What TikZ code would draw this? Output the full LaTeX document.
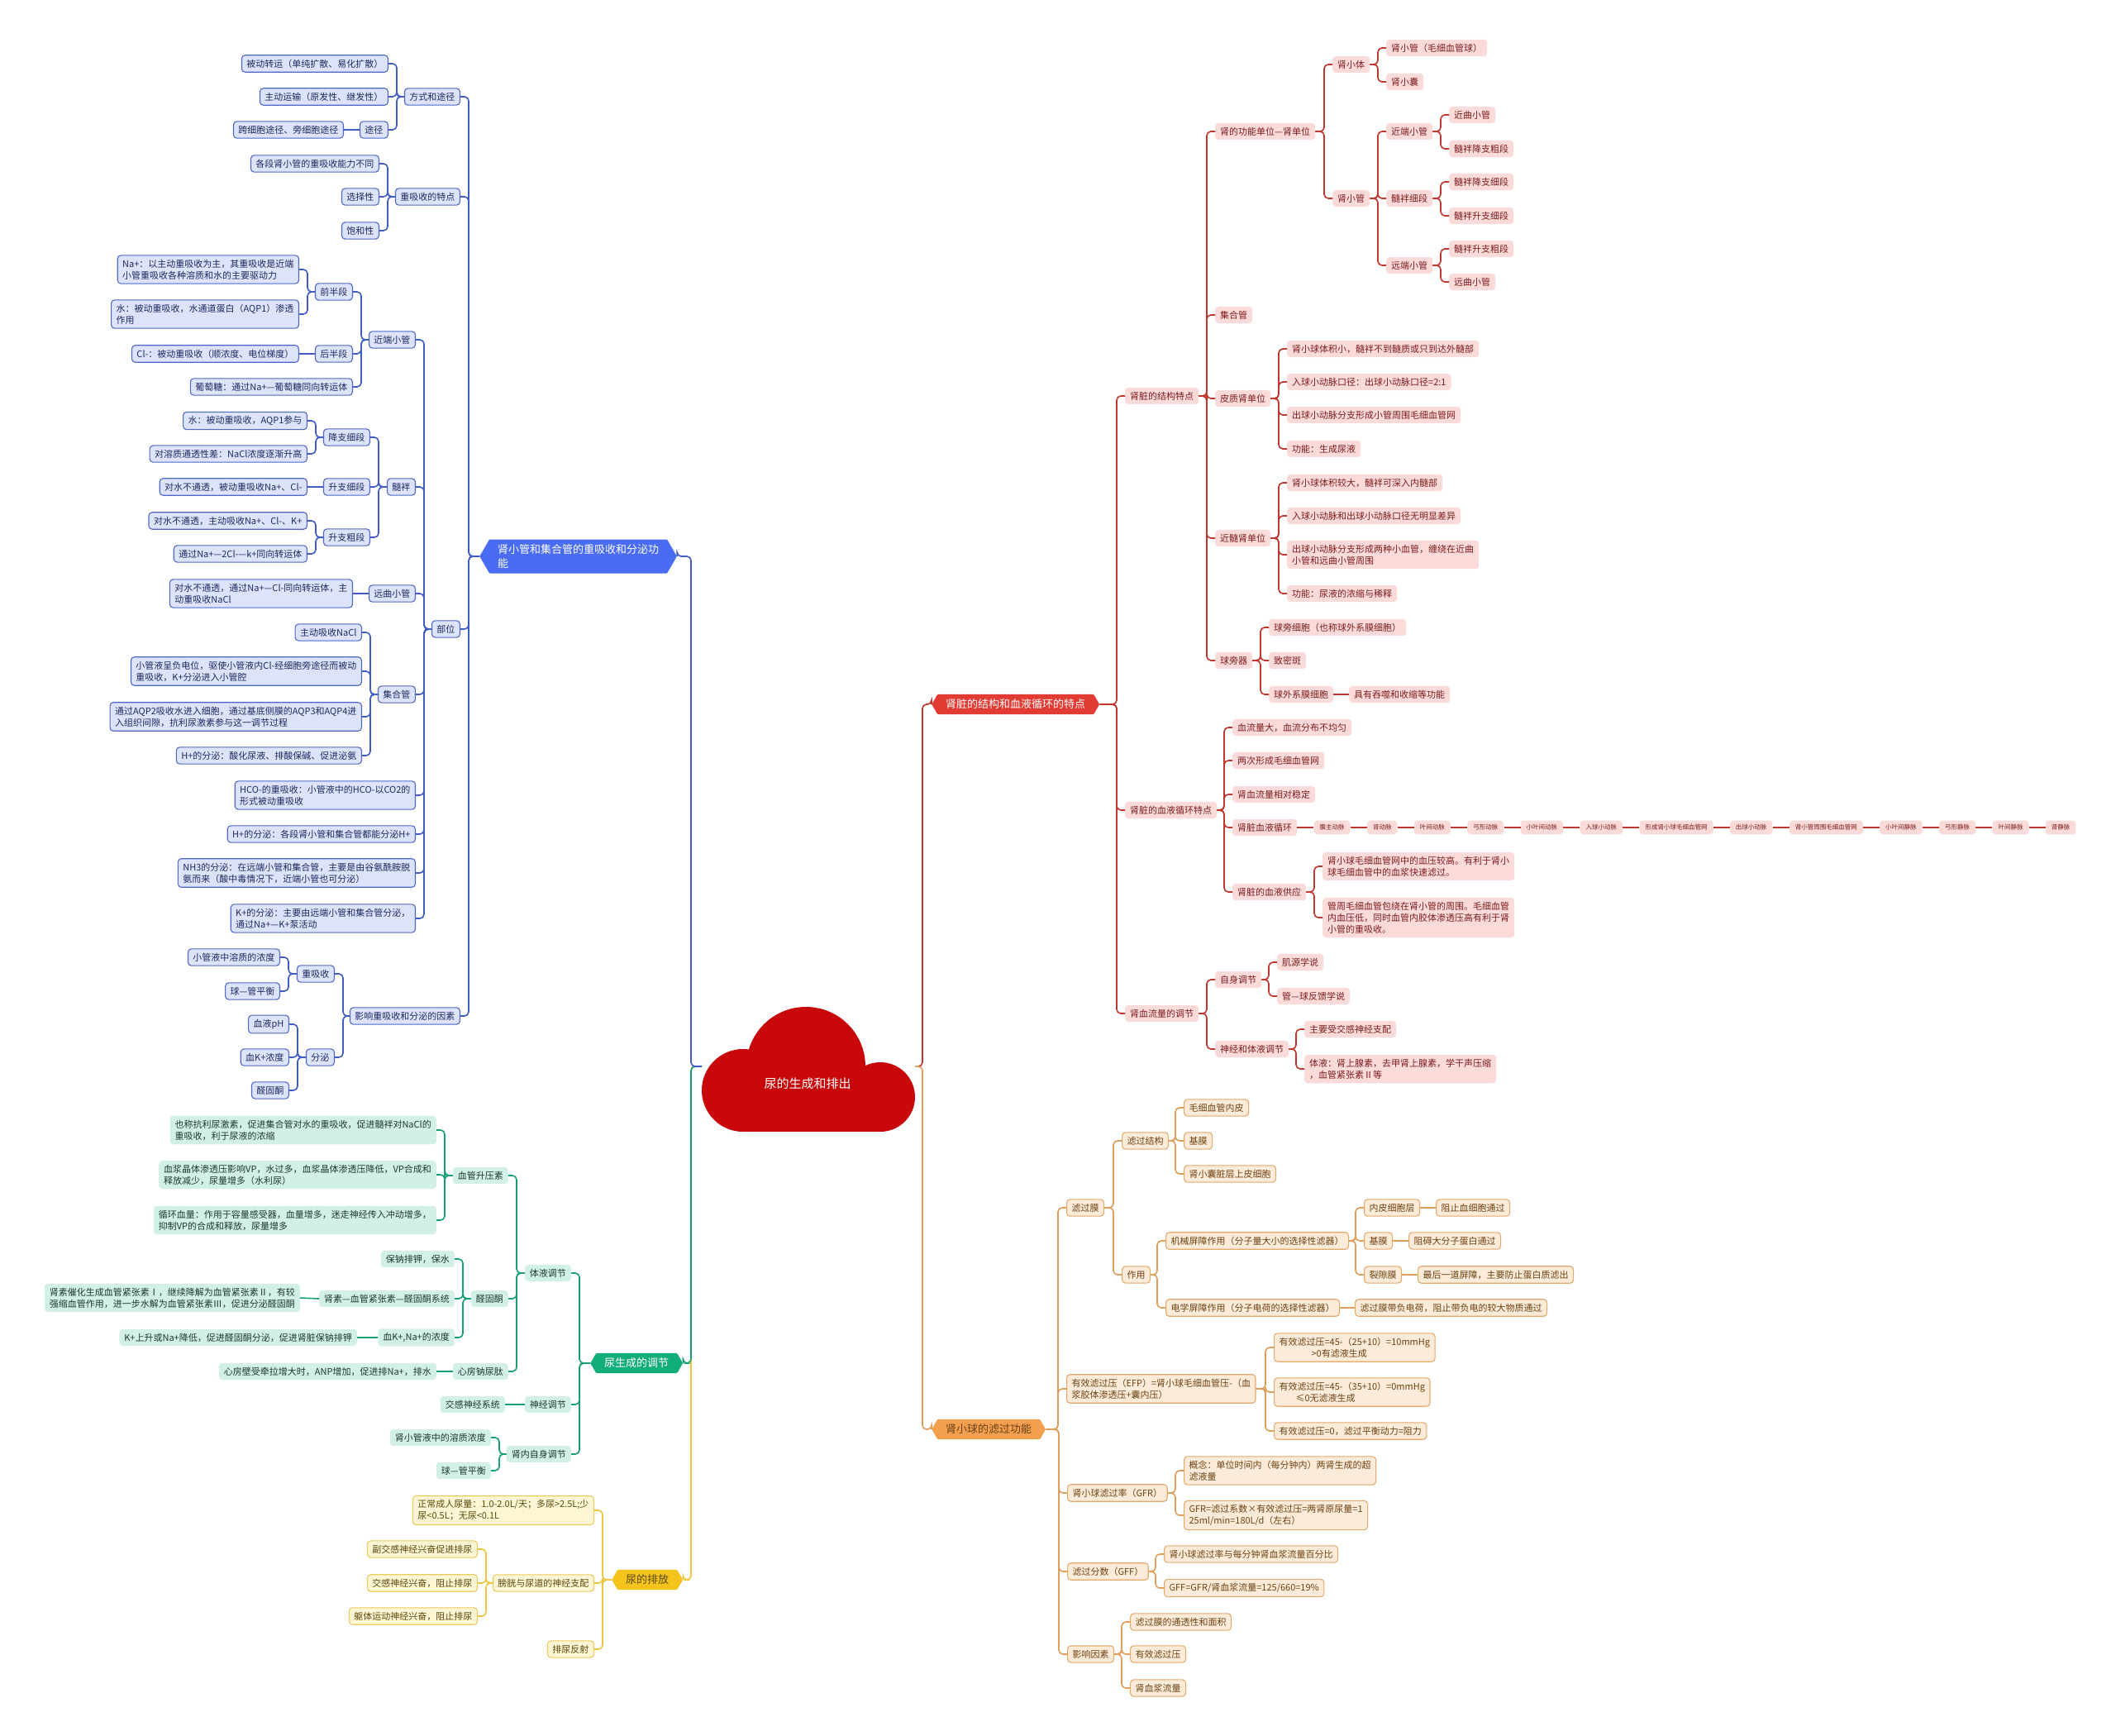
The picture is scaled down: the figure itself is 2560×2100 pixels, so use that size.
\documentclass[tikz,border=0pt]{standalone}
\usepackage{fontspec}
\setmainfont{Noto Sans CJK SC}
\usetikzlibrary{positioning,shapes.symbols}
\definecolor{bcol}{HTML}{3F5CC4}
\definecolor{bfill}{HTML}{DCE3FA}
\definecolor{bdraw}{HTML}{5069C9}
\definecolor{btext}{HTML}{1E2A5E}
\definecolor{bmain}{HTML}{4A6CF2}
\definecolor{rcol}{HTML}{C0362E}
\definecolor{rfill}{HTML}{FBDADA}
\definecolor{rtext}{HTML}{7A1D1D}
\definecolor{rmain}{HTML}{E23B33}
\definecolor{ocol}{HTML}{DE9E5C}
\definecolor{ofill}{HTML}{FCEBD8}
\definecolor{odraw}{HTML}{E3AA6E}
\definecolor{otext}{HTML}{6B4214}
\definecolor{omain}{HTML}{F2A04F}
\definecolor{gcol}{HTML}{16A070}
\definecolor{gfill}{HTML}{D2F1E4}
\definecolor{gtext}{HTML}{1C3A2F}
\definecolor{gmain}{HTML}{12AE78}
\definecolor{ycol}{HTML}{ECC43E}
\definecolor{yfill}{HTML}{FDF6D4}
\definecolor{ydraw}{HTML}{EACB60}
\definecolor{ytext}{HTML}{5A480C}
\definecolor{ymain}{HTML}{F4C41C}
\definecolor{rootc}{HTML}{C8080A}
\begin{document}
\begin{tikzpicture}[x=1pt,y=-1pt,
  every node/.style={font=\fontsize{11}{14}\selectfont, align=left, inner xsep=6pt, inner ysep=5pt, rounded corners=4pt},
  lside/.style={anchor=east}, rside/.style={anchor=west},
  bbox/.style={draw=bdraw, fill=bfill, text=btext, line width=1.1pt},
  rbox/.style={fill=rfill, text=rtext},
  obox/.style={draw=odraw, fill=ofill, text=otext, line width=1.1pt},
  gbox/.style={fill=gfill, text=gtext},
  ybox/.style={draw=ydraw, fill=yfill, text=ytext, line width=1.1pt},
  chainbox/.style={rbox, font=\fontsize{7.5}{9}\selectfont, inner xsep=7pt, inner ysep=5pt},
  mainbox/.style={shape=signal, signal to=west and east, signal pointer angle=120, rounded corners=1pt,
    font=\fontsize{13}{17}\selectfont, inner xsep=10pt, inner ysep=6pt, anchor=west},
  bline/.style={draw=bcol, line width=1.6pt, rounded corners=5pt},
  rline/.style={draw=rcol, line width=1.6pt, rounded corners=5pt},
  oline/.style={draw=ocol, line width=1.6pt, rounded corners=5pt},
  gline/.style={draw=gcol, line width=1.6pt, rounded corners=5pt},
  yline/.style={draw=ycol, line width=1.6pt, rounded corners=5pt}]
\fill[white] (0,0) rectangle (2560,2100);
\useasboundingbox (0,0) rectangle (2560,2100);

% centre
\coordinate (rootL) at (849,1290);
\coordinate (rootR) at (1107,1290);

% main branches
\node[mainbox, fill=bmain, text=white] (mb) at (580,673) {肾小管和集合管的重吸收和分泌功\\能};
\node[mainbox, fill=gmain, text=white] (mg) at (714,1649) {尿生成的调节};
\node[mainbox, fill=ymain, text=ytext] (my) at (740,1911) {尿的排放};
\node[mainbox, fill=rmain, text=white] (mr) at (1127,852) {肾脏的结构和血液循环的特点};
\node[mainbox, fill=omain, text=otext] (mo) at (1127,1729) {肾小球的滤过功能};

\draw[yline] (my.east) -- ++(0,0) -| (836,1290) -- (rootL);
\draw[gline] (mg.east) -- ++(0,0) -| (836,1290) -- (rootL);
\draw[bline] (mb.east) -- ++(0,0) -| (836,1290) -- (rootL);
\draw[rline] (mr.west) -- ++(0,0) -| (1116,1290) -- (rootR);
\draw[oline] (mo.west) -- ++(0,0) -| (1116,1290) -- (rootR);

% cloud
\fill[rootc] (975,1290) circle (72pt);
\fill[rootc] (899,1319) circle (50pt);
\fill[rootc] (1065,1327) circle (42pt);
\fill[rootc] (899,1300) rectangle (1065,1369);
\node[text=white, font=\fontsize{15}{18}\selectfont] (root) at (977,1311) {尿的生成和排出};

% blue: reabsorption and secretion
\node[bbox, lside] (b1) at (557,117) {方式和途径};
\node[bbox, lside] (b11) at (470,77) {被动转运（单纯扩散、易化扩散）};
\node[bbox, lside] (b12) at (470,117) {主动运输（原发性、继发性）};
\node[bbox, lside] (b13) at (470,157) {途径};
\node[bbox, lside] (b131) at (416,157) {跨细胞途径、旁细胞途径};
\node[bbox, lside] (b2) at (557,238) {重吸收的特点};
\node[bbox, lside] (b21) at (459,198) {各段肾小管的重吸收能力不同};
\node[bbox, lside] (b22) at (459,238) {选择性};
\node[bbox, lside] (b23) at (459,279) {饱和性};
\node[bbox, lside] (b3) at (557,761) {部位};
\node[bbox, lside] (b31) at (503,411) {近端小管};
\node[bbox, lside] (b311) at (427,353) {前半段};
\node[bbox, lside] (b3111) at (362,326) {Na+：以主动重吸收为主，其重吸收是近端\\小管重吸收各种溶质和水的主要驱动力};
\node[bbox, lside] (b3112) at (362,380) {水：被动重吸收，水通道蛋白（AQP1）渗透\\作用};
\node[bbox, lside] (b312) at (427,428) {后半段};
\node[bbox, lside] (b3121) at (362,428) {Cl-：被动重吸收（顺浓度、电位梯度）};
\node[bbox, lside] (b313) at (427,468) {葡萄糖：通过Na+—葡萄糖同向转运体};
\node[bbox, lside] (b32) at (503,589) {髓袢};
\node[bbox, lside] (b321) at (448,529) {降支细段};
\node[bbox, lside] (b3211) at (372,509) {水：被动重吸收，AQP1参与};
\node[bbox, lside] (b3212) at (372,549) {对溶质通透性差：NaCl浓度逐渐升高};
\node[bbox, lside] (b322) at (448,589) {升支细段};
\node[bbox, lside] (b3221) at (372,589) {对水不通透，被动重吸收Na+、Cl-};
\node[bbox, lside] (b323) at (448,650) {升支粗段};
\node[bbox, lside] (b3231) at (372,630) {对水不通透，主动吸收Na+、Cl-、K+};
\node[bbox, lside] (b3232) at (372,670) {通过Na+—2Cl-—k+同向转运体};
\node[bbox, lside] (b33) at (503,718) {远曲小管};
\node[bbox, lside] (b331) at (427,718) {对水不通透，通过Na+—Cl-同向转运体，主\\动重吸收NaCl};
\node[bbox, lside] (b34) at (503,840) {集合管};
\node[bbox, lside] (b341) at (438,765) {主动吸收NaCl};
\node[bbox, lside] (b342) at (438,812) {小管液呈负电位，驱使小管液内Cl-经细胞旁途径而被动\\重吸收，K+分泌进入小管腔};
\node[bbox, lside] (b343) at (438,867) {通过AQP2吸收水进入细胞，通过基底侧膜的AQP3和AQP4进\\入组织间隙，抗利尿激素参与这一调节过程};
\node[bbox, lside] (b344) at (438,914) {H+的分泌：酸化尿液、排酸保碱、促进泌氨};
\node[bbox, lside] (b35) at (503,962) {HCO-的重吸收：小管液中的HCO-以CO2的\\形式被动重吸收};
\node[bbox, lside] (b36) at (503,1009) {H+的分泌：各段肾小管和集合管都能分泌H+};
\node[bbox, lside] (b37) at (503,1056) {NH3的分泌：在远端小管和集合管，主要是由谷氨酰胺脱\\氨而来（酸中毒情况下，近端小管也可分泌）};
\node[bbox, lside] (b38) at (503,1111) {K+的分泌：主要由远端小管和集合管分泌，\\通过Na+—K+泵活动};
\node[bbox, lside] (b4) at (557,1229) {影响重吸收和分泌的因素};
\node[bbox, lside] (b41) at (405,1178) {重吸收};
\node[bbox, lside] (b411) at (339,1158) {小管液中溶质的浓度};
\node[bbox, lside] (b412) at (339,1199) {球—管平衡};
\node[bbox, lside] (b42) at (405,1279) {分泌};
\node[bbox, lside] (b421) at (350,1239) {血液pH};
\node[bbox, lside] (b422) at (350,1279) {血K+浓度};
\node[bbox, lside] (b423) at (350,1319) {醛固酮};

\foreach \c in {b1,b2,b3,b4} \draw[bline] (\c.east) -- ++(10,0) |- (mb.west);
\foreach \c in {b11,b12,b13} \draw[bline] (\c.east) -- ++(10,0) |- (b1.west);
\draw[bline] (b131.east) -- (b13.west);
\foreach \c in {b21,b22,b23} \draw[bline] (\c.east) -- ++(10,0) |- (b2.west);
\foreach \c in {b31,b32,b33,b34,b35,b36,b37,b38} \draw[bline] (\c.east) -- ++(10,0) |- (b3.west);
\foreach \c in {b311,b312,b313} \draw[bline] (\c.east) -- ++(10,0) |- (b31.west);
\foreach \c in {b3111,b3112} \draw[bline] (\c.east) -- ++(10,0) |- (b311.west);
\draw[bline] (b3121.east) -- (b312.west);
\foreach \c in {b321,b322,b323} \draw[bline] (\c.east) -- ++(10,0) |- (b32.west);
\foreach \c in {b3211,b3212} \draw[bline] (\c.east) -- ++(10,0) |- (b321.west);
\draw[bline] (b3221.east) -- (b322.west);
\foreach \c in {b3231,b3232} \draw[bline] (\c.east) -- ++(10,0) |- (b323.west);
\draw[bline] (b331.east) -- (b33.west);
\foreach \c in {b341,b342,b343,b344} \draw[bline] (\c.east) -- ++(10,0) |- (b34.west);
\foreach \c in {b41,b42} \draw[bline] (\c.east) -- ++(10,0) |- (b4.west);
\foreach \c in {b411,b412} \draw[bline] (\c.east) -- ++(10,0) |- (b41.west);
\foreach \c in {b421,b422,b423} \draw[bline] (\c.east) -- ++(10,0) |- (b42.west);

% green: regulation
\node[gbox, lside] (g1) at (691,1540) {体液调节};
\node[gbox, lside] (g11) at (615,1422) {血管升压素};
\node[gbox, lside] (g111) at (528,1367) {也称抗利尿激素，促进集合管对水的重吸收，促进髓袢对NaCl的\\重吸收，利于尿液的浓缩};
\node[gbox, lside] (g112) at (528,1421) {血浆晶体渗透压影响VP，水过多，血浆晶体渗透压降低，VP合成和\\释放减少，尿量增多（水利尿）};
\node[gbox, lside] (g113) at (528,1476) {循环血量：作用于容量感受器，血量增多，迷走神经传入冲动增多，\\抑制VP的合成和释放，尿量增多};
\node[gbox, lside] (g12) at (615,1571) {醛固酮};
\node[gbox, lside] (g121) at (550,1523) {保钠排钾，保水};
\node[gbox, lside] (g122) at (550,1571) {肾素—血管紧张素—醛固酮系统};
\node[gbox, lside] (g1221) at (363,1570) {肾素催化生成血管紧张素Ⅰ，继续降解为血管紧张素Ⅱ，有较\\强缩血管作用，进一步水解为血管紧张素Ⅲ，促进分泌醛固酮};
\node[gbox, lside] (g123) at (550,1618) {血K+,Na+的浓度};
\node[gbox, lside] (g1231) at (432,1618) {K+上升或Na+降低，促进醛固酮分泌，促进肾脏保钠排钾};
\node[gbox, lside] (g13) at (615,1659) {心房钠尿肽};
\node[gbox, lside] (g131) at (528,1659) {心房壁受牵拉增大时，ANP增加，促进排Na+，排水};
\node[gbox, lside] (g2) at (691,1699) {神经调节};
\node[gbox, lside] (g21) at (611,1699) {交感神经系统};
\node[gbox, lside] (g3) at (691,1759) {肾内自身调节};
\node[gbox, lside] (g31) at (594,1739) {肾小管液中的溶质浓度};
\node[gbox, lside] (g32) at (594,1779) {球—管平衡};

\foreach \c in {g1,g2,g3} \draw[gline] (\c.east) -- ++(10,0) |- (mg.west);
\foreach \c in {g11,g12,g13} \draw[gline] (\c.east) -- ++(10,0) |- (g1.west);
\foreach \c in {g111,g112,g113} \draw[gline] (\c.east) -- ++(10,0) |- (g11.west);
\foreach \c in {g121,g122,g123} \draw[gline] (\c.east) -- ++(10,0) |- (g12.west);
\draw[gline] (g1221.east) -- (g122.west);
\draw[gline] (g1231.east) -- (g123.west);
\draw[gline] (g131.east) -- (g13.west);
\draw[gline] (g21.east) -- (g2.west);
\foreach \c in {g31,g32} \draw[gline] (\c.east) -- ++(10,0) |- (g3.west);

% yellow: micturition
\node[ybox, lside] (y1) at (719,1827) {正常成人尿量：1.0-2.0L/天；多尿>2.5L;少\\尿<0.5L；无尿<0.1L};
\node[ybox, lside] (y2) at (719,1915) {膀胱与尿道的神经支配};
\node[ybox, lside] (y21) at (578,1874) {副交感神经兴奋促进排尿};
\node[ybox, lside] (y22) at (578,1915) {交感神经兴奋，阻止排尿};
\node[ybox, lside] (y23) at (578,1955) {躯体运动神经兴奋，阻止排尿};
\node[ybox, lside] (y3) at (719,1995) {排尿反射};

\foreach \c in {y1,y2,y3} \draw[yline] (\c.east) -- ++(10,0) |- (my.west);
\foreach \c in {y21,y22,y23} \draw[yline] (\c.east) -- ++(10,0) |- (y2.west);

% red: structure and blood circulation
\node[rbox, rside] (r1) at (1361,479) {肾脏的结构特点};
\node[rbox, rside] (r11) at (1470,159) {肾的功能单位—肾单位};
\node[rbox, rside] (r111) at (1612,78) {肾小体};
\node[rbox, rside] (r1111) at (1677,58) {肾小管（毛细血管球）};
\node[rbox, rside] (r1112) at (1677,99) {肾小囊};
\node[rbox, rside] (r112) at (1612,240) {肾小管};
\node[rbox, rside] (r1121) at (1677,159) {近端小管};
\node[rbox, rside] (r11211) at (1753,139) {近曲小管};
\node[rbox, rside] (r11212) at (1753,180) {髓袢降支粗段};
\node[rbox, rside] (r1122) at (1677,240) {髓袢细段};
\node[rbox, rside] (r11221) at (1753,220) {髓袢降支细段};
\node[rbox, rside] (r11222) at (1753,261) {髓袢升支细段};
\node[rbox, rside] (r1123) at (1677,321) {远端小管};
\node[rbox, rside] (r11231) at (1753,301) {髓袢升支粗段};
\node[rbox, rside] (r11232) at (1753,341) {远曲小管};
\node[rbox, rside] (r12) at (1470,381) {集合管};
\node[rbox, rside] (r13) at (1470,482) {皮质肾单位};
\node[rbox, rside] (r131) at (1557,422) {肾小球体积小，髓袢不到髓质或只到达外髓部};
\node[rbox, rside] (r132) at (1557,462) {入球小动脉口径：出球小动脉口径=2:1};
\node[rbox, rside] (r133) at (1557,502) {出球小动脉分支形成小管周围毛细血管网};
\node[rbox, rside] (r134) at (1557,543) {功能：生成尿液};
\node[rbox, rside] (r14) at (1470,651) {近髓肾单位};
\node[rbox, rside] (r141) at (1557,584) {肾小球体积较大，髓袢可深入内髓部};
\node[rbox, rside] (r142) at (1557,624) {入球小动脉和出球小动脉口径无明显差异};
\node[rbox, rside] (r143) at (1557,671) {出球小动脉分支形成两种小血管，缠绕在近曲\\小管和远曲小管周围};
\node[rbox, rside] (r144) at (1557,718) {功能：尿液的浓缩与稀释};
\node[rbox, rside] (r15) at (1470,799) {球旁器};
\node[rbox, rside] (r151) at (1535,759) {球旁细胞（也称球外系膜细胞）};
\node[rbox, rside] (r152) at (1535,799) {致密斑};
\node[rbox, rside] (r153) at (1535,840) {球外系膜细胞};
\node[rbox, rside] (r1531) at (1632,840) {具有吞噬和收缩等功能};
\node[rbox, rside] (r2) at (1361,980) {肾脏的血液循环特点};
\node[rbox, rside] (r21) at (1491,880) {血流量大，血流分布不均匀};
\node[rbox, rside] (r22) at (1491,920) {两次形成毛细血管网};
\node[rbox, rside] (r23) at (1491,961) {肾血流量相对稳定};
\node[rbox, rside] (r24) at (1491,1001) {肾脏血液循环};
\node[chainbox, right=20pt of r24] (c1) {腹主动脉};
\node[chainbox, right=20pt of c1] (c2) {肾动脉};
\node[chainbox, right=20pt of c2] (c3) {叶间动脉};
\node[chainbox, right=20pt of c3] (c4) {弓形动脉};
\node[chainbox, right=20pt of c4] (c5) {小叶间动脉};
\node[chainbox, right=20pt of c5] (c6) {入球小动脉};
\node[chainbox, right=20pt of c6] (c7) {形成肾小球毛细血管网};
\node[chainbox, right=20pt of c7] (c8) {出球小动脉};
\node[chainbox, right=20pt of c8] (c9) {肾小管周围毛细血管网};
\node[chainbox, right=20pt of c9] (c10) {小叶间静脉};
\node[chainbox, right=20pt of c10] (c11) {弓形静脉};
\node[chainbox, right=20pt of c11] (c12) {叶间静脉};
\node[chainbox, right=20pt of c12] (c13) {肾静脉};
\node[rbox, rside] (r25) at (1491,1079) {肾脏的血液供应};
\node[rbox, rside] (r251) at (1600,1048) {肾小球毛细血管网中的血压较高。有利于肾小\\球毛细血管中的血浆快速滤过。};
\node[rbox, rside] (r252) at (1600,1110) {管周毛细血管包绕在肾小管的周围。毛细血管\\内血压低，同时血管内胶体渗透压高有利于肾\\小管的重吸收。};
\node[rbox, rside] (r3) at (1361,1226) {肾血流量的调节};
\node[rbox, rside] (r31) at (1470,1185) {自身调节};
\node[rbox, rside] (r311) at (1545,1164) {肌源学说};
\node[rbox, rside] (r312) at (1545,1205) {管—球反馈学说};
\node[rbox, rside] (r32) at (1470,1269) {神经和体液调节};
\node[rbox, rside] (r321) at (1578,1245) {主要受交感神经支配};
\node[rbox, rside] (r322) at (1578,1293) {体液：肾上腺素，去甲肾上腺素，学干声压缩\\，血管紧张素Ⅱ等};

\foreach \c in {r1,r2,r3} \draw[rline] (\c.west) -- ++(-10,0) |- (mr.east);
\foreach \c in {r11,r12,r13,r14,r15} \draw[rline] (\c.west) -- ++(-10,0) |- (r1.east);
\foreach \c in {r111,r112} \draw[rline] (\c.west) -- ++(-10,0) |- (r11.east);
\foreach \c in {r1111,r1112} \draw[rline] (\c.west) -- ++(-10,0) |- (r111.east);
\foreach \c in {r1121,r1122,r1123} \draw[rline] (\c.west) -- ++(-10,0) |- (r112.east);
\foreach \c in {r11211,r11212} \draw[rline] (\c.west) -- ++(-10,0) |- (r1121.east);
\foreach \c in {r11221,r11222} \draw[rline] (\c.west) -- ++(-10,0) |- (r1122.east);
\foreach \c in {r11231,r11232} \draw[rline] (\c.west) -- ++(-10,0) |- (r1123.east);
\foreach \c in {r131,r132,r133,r134} \draw[rline] (\c.west) -- ++(-10,0) |- (r13.east);
\foreach \c in {r141,r142,r143,r144} \draw[rline] (\c.west) -- ++(-10,0) |- (r14.east);
\foreach \c in {r151,r152,r153} \draw[rline] (\c.west) -- ++(-10,0) |- (r15.east);
\draw[rline] (r153.east) -- (r1531.west);
\foreach \c in {r21,r22,r23,r24,r25} \draw[rline] (\c.west) -- ++(-10,0) |- (r2.east);
\foreach \a/\b in {r24/c1,c1/c2,c2/c3,c3/c4,c4/c5,c5/c6,c6/c7,c7/c8,c8/c9,c9/c10,c10/c11,c11/c12,c12/c13}
  \draw[rline] (\a.east) -- (\b.west);
\foreach \c in {r251,r252} \draw[rline] (\c.west) -- ++(-10,0) |- (r25.east);
\foreach \c in {r31,r32} \draw[rline] (\c.west) -- ++(-10,0) |- (r3.east);
\foreach \c in {r311,r312} \draw[rline] (\c.west) -- ++(-10,0) |- (r31.east);
\foreach \c in {r321,r322} \draw[rline] (\c.west) -- ++(-10,0) |- (r32.east);

% orange: glomerular filtration
\node[obox, rside] (o1) at (1290,1461) {滤过膜};
\node[obox, rside] (o11) at (1357,1380) {滤过结构};
\node[obox, rside] (o111) at (1432,1340) {毛细血管内皮};
\node[obox, rside] (o112) at (1432,1380) {基膜};
\node[obox, rside] (o113) at (1432,1420) {肾小囊脏层上皮细胞};
\node[obox, rside] (o12) at (1357,1542) {作用};
\node[obox, rside] (o121) at (1410,1501) {机械屏障作用（分子量大小的选择性滤器）};
\node[obox, rside] (o1211) at (1650,1461) {内皮细胞层};
\node[obox, rside] (o12111) at (1737,1461) {阻止血细胞通过};
\node[obox, rside] (o1212) at (1650,1501) {基膜};
\node[obox, rside] (o12121) at (1704,1501) {阻碍大分子蛋白通过};
\node[obox, rside] (o1213) at (1650,1542) {裂隙膜};
\node[obox, rside] (o12131) at (1715,1542) {最后一道屏障，主要防止蛋白质滤出};
\node[obox, rside] (o122) at (1410,1582) {电学屏障作用（分子电荷的选择性滤器）};
\node[obox, rside] (o1221) at (1639,1582) {滤过膜带负电荷，阻止带负电的较大物质通过};
\node[obox, rside] (o2) at (1290,1680) {有效滤过压（EFP）=肾小球毛细血管压-（血\\浆胶体渗透压+囊内压）};
\node[obox, rside] (o21) at (1541,1630) {有效滤过压=45-（25+10）=10mmHg\\\hspace*{39pt}>0有滤液生成};
\node[obox, rside] (o22) at (1541,1684) {有效滤过压=45-（35+10）=0mmHg\\\hspace*{20pt}≤0无滤液生成};
\node[obox, rside] (o23) at (1541,1731) {有效滤过压=0，滤过平衡动力=阻力};
\node[obox, rside] (o3) at (1291,1806) {肾小球滤过率（GFR）};
\node[obox, rside] (o31) at (1432,1779) {概念：单位时间内（每分钟内）两肾生成的超\\滤液量};
\node[obox, rside] (o32) at (1432,1833) {GFR=滤过系数×有效滤过压=两肾原尿量=1\\25ml/min=180L/d（左右）};
\node[obox, rside] (o4) at (1291,1901) {滤过分数（GFF）};
\node[obox, rside] (o41) at (1408,1880) {肾小球滤过率与每分钟肾血浆流量百分比};
\node[obox, rside] (o42) at (1408,1921) {GFF=GFR/肾血浆流量=125/660=19\%};
\node[obox, rside] (o5) at (1291,2001) {影响因素};
\node[obox, rside] (o51) at (1367,1962) {滤过膜的通透性和面积};
\node[obox, rside] (o52) at (1367,2001) {有效滤过压};
\node[obox, rside] (o53) at (1367,2042) {肾血浆流量};

\foreach \c in {o1,o2,o3,o4,o5} \draw[oline] (\c.west) -- ++(-10,0) |- (mo.east);
\foreach \c in {o11,o12} \draw[oline] (\c.west) -- ++(-10,0) |- (o1.east);
\foreach \c in {o111,o112,o113} \draw[oline] (\c.west) -- ++(-10,0) |- (o11.east);
\foreach \c in {o121,o122} \draw[oline] (\c.west) -- ++(-10,0) |- (o12.east);
\foreach \c in {o1211,o1212,o1213} \draw[oline] (\c.west) -- ++(-10,0) |- (o121.east);
\draw[oline] (o1211.east) -- (o12111.west);
\draw[oline] (o1212.east) -- (o12121.west);
\draw[oline] (o1213.east) -- (o12131.west);
\draw[oline] (o122.east) -- (o1221.west);
\foreach \c in {o21,o22,o23} \draw[oline] (\c.west) -- ++(-10,0) |- (o2.east);
\foreach \c in {o31,o32} \draw[oline] (\c.west) -- ++(-10,0) |- (o3.east);
\foreach \c in {o41,o42} \draw[oline] (\c.west) -- ++(-10,0) |- (o4.east);
\foreach \c in {o51,o52,o53} \draw[oline] (\c.west) -- ++(-10,0) |- (o5.east);
\end{tikzpicture}
\end{document}
